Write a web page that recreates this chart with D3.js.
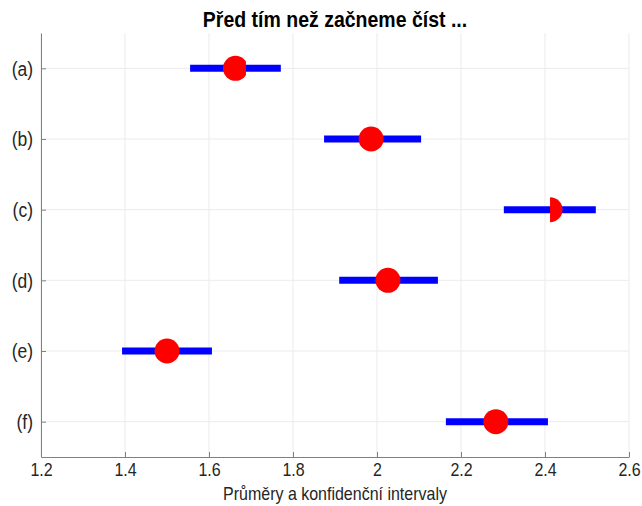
<!DOCTYPE html>
<html>
<head>
<meta charset="utf-8">
<script src="https://cdn.jsdelivr.net/npm/d3@7"></script>
<style>
  body { margin: 0; background: #fff; }
  svg { font-family: "Liberation Sans", Arial, sans-serif; }
</style>
</head>
<body>
<div id="chart"></div>
<script>
// data
var labels = ["(a)", "(b)", "(c)", "(d)", "(e)", "(f)"];
var means  = [1.663, 1.986, 2.412, 2.026, 1.500, 2.283];
var lower  = [1.555, 1.874, 2.302, 1.910, 1.393, 2.164];
var upper  = [1.771, 2.105, 2.521, 2.145, 1.607, 2.407];
var xTicks = [1.2, 1.4, 1.6, 1.8, 2, 2.2, 2.4, 2.6];
// the original render cut some markers; visible x-range of each marker, data units
var markerVisible = [[1.2, 1.688], null, [2.412, 2.6], null, null, null];

var W = 642, H = 506;
var margin = {top: 33, right: 13, bottom: 49, left: 41},
    width = W - margin.left - margin.right,
    height = H - margin.top - margin.bottom;
var stretch = 1.2; // text in the original looks taller than wide

var svg = d3.select("#chart").append("svg")
    .attr("width", W)
    .attr("height", H);

var g = svg.append("g")
    .attr("transform", "translate(" + margin.left + "," + margin.top + ")");

var x = d3.scaleLinear().domain([1.2, 2.6]).range([0, width]);
var y = d3.scaleLinear().domain([0.5, labels.length + 0.5]).range([0, height]);

// grid
g.append("g").selectAll("line")
  .data(xTicks)
  .enter().append("line")
    .attr("x1", function(d) { return x(d); })
    .attr("x2", function(d) { return x(d); })
    .attr("y1", 0).attr("y2", height)
    .attr("stroke", "#ebebeb").attr("stroke-width", 1);

g.append("g").selectAll("line")
  .data(labels)
  .enter().append("line")
    .attr("x1", 0).attr("x2", width)
    .attr("y1", function(d, i) { return y(i + 1); })
    .attr("y2", function(d, i) { return y(i + 1); })
    .attr("stroke", "#ebebeb").attr("stroke-width", 1);

// axes, ticks pointing inward like matlab
var xAxis = g.append("g")
    .attr("transform", "translate(0," + height + ")")
    .call(d3.axisBottom(x).tickValues(xTicks).tickFormat(d3.format("")).tickSizeInner(-5).tickSizeOuter(0));

var yAxis = g.append("g")
    .call(d3.axisLeft(y).tickValues(d3.range(1, labels.length + 1))
      .tickFormat(function(d) { return labels[d - 1]; })
      .tickSizeInner(-5).tickSizeOuter(0).tickPadding(8));

[xAxis, yAxis].forEach(function(a) {
  a.select(".domain").attr("stroke", "#808080");
  a.selectAll(".tick line").attr("stroke", "#808080");
  a.selectAll("text").attr("fill", "#262626");
});

xAxis.selectAll("text")
    .attr("font-size", "16px")
    .attr("dy", null)
    .attr("y", 19 / stretch)
    .attr("transform", "scale(1," + stretch + ")");

yAxis.selectAll("text")
    .attr("font-size", "17.5px")
    .attr("transform", "scale(1," + stretch + ")");

// clip paths for the cut markers
var defs = svg.append("defs");
markerVisible.forEach(function(v, i) {
  if (!v) return;
  defs.append("clipPath").attr("id", "mclip" + i)
    .append("rect")
      .attr("x", x(v[0])).attr("width", x(v[1]) - x(v[0]))
      .attr("y", y(i + 0.5)).attr("height", y(i + 1.5) - y(i + 0.5));
});

// confidence intervals
g.append("g").selectAll("line")
  .data(labels)
  .enter().append("line")
    .attr("x1", function(d, i) { return x(lower[i]); })
    .attr("x2", function(d, i) { return x(upper[i]); })
    .attr("y1", function(d, i) { return y(i + 1); })
    .attr("y2", function(d, i) { return y(i + 1); })
    .attr("stroke", "#0000ff").attr("stroke-width", 7);

// means
g.append("g").selectAll("circle")
  .data(labels)
  .enter().append("circle")
    .attr("cx", function(d, i) { return x(means[i]); })
    .attr("cy", function(d, i) { return y(i + 1); })
    .attr("r", 12.5)
    .attr("fill", "#ff0000")
    .attr("clip-path", function(d, i) { return markerVisible[i] ? "url(#mclip" + i + ")" : null; });

// title and label
svg.append("text")
    .attr("transform", "translate(" + (margin.left + width / 2) + ",27) scale(1,1.1)")
    .attr("text-anchor", "middle")
    .attr("font-size", "19.5px")
    .attr("font-weight", "bold")
    .attr("fill", "#000")
    .text("Před tím než začneme číst ...");

svg.append("text")
    .attr("transform", "translate(" + (margin.left + width / 2) + ",500) scale(1," + stretch + ")")
    .attr("text-anchor", "middle")
    .attr("font-size", "16px")
    .attr("fill", "#262626")
    .text("Průměry a konfidenční intervaly");
</script>
</body>
</html>
